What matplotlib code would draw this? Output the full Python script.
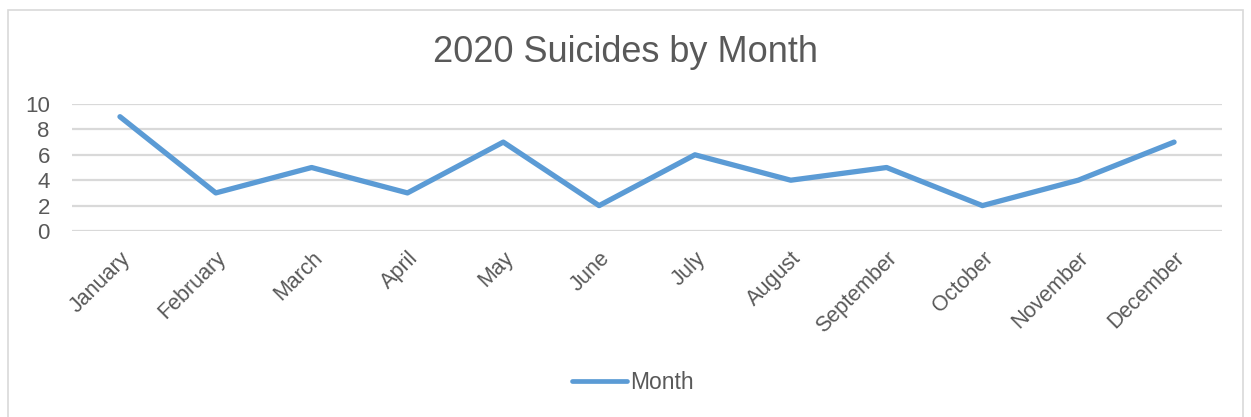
import matplotlib.pyplot as plt
from matplotlib.patches import Rectangle

plt.rcParams['font.family'] = ['Liberation Sans', 'DejaVu Sans']

months = ['January', 'February', 'March', 'April', 'May', 'June', 'July',
          'August', 'September', 'October', 'November', 'December']
suicides = [9, 3, 5, 3, 7, 2, 6, 4, 5, 2, 4, 7]
yticks = [0, 2, 4, 6, 8, 10]

txt = '#595959'
grid = '#d9d9d9'
blue = '#5b9bd5'

fig = plt.figure(figsize=(12.51, 4.17), dpi=100)
ax = fig.add_axes([0.0576, 0.446, 0.9192, 0.3046])

x = list(range(len(months)))
ax.plot(x, suicides, color=blue, linewidth=3.8, solid_capstyle='round',
        solid_joinstyle='round', label='Month', zorder=3)

ax.set_xlim(-0.5, len(months) - 0.5)
ax.set_ylim(0, 10)
ax.set_yticks(yticks)
ax.set_xticks(x)
ax.set_xticklabels(months, rotation=45, ha='right', rotation_mode='anchor',
                   fontsize=15.5, color=txt)
ax.tick_params(axis='y', labelsize=16, labelcolor=txt, length=0, pad=16)
ax.tick_params(axis='x', length=0, pad=12)
ax.yaxis.grid(True, color=grid, linewidth=1.6)
ax.set_axisbelow(True)
for s in ax.spines.values():
    s.set_visible(False)

fig.text(0.5, 0.875, '2020 Suicides by Month', ha='center', va='center',
         fontsize=26, color=txt)

leg = fig.legend(loc='center', bbox_to_anchor=(0.506, 0.082), frameon=False,
                 fontsize=16.5, handlelength=2.4, handletextpad=0.15)
for t in leg.get_texts():
    t.set_color(txt)
for h in leg.get_lines():
    h.set_linewidth(3.4)

fig.patches.append(Rectangle((0.006, -0.01), 0.988, 0.985, transform=fig.transFigure,
                             fill=False, edgecolor=grid, linewidth=1.2))

fig.savefig('out.png', dpi=100)
